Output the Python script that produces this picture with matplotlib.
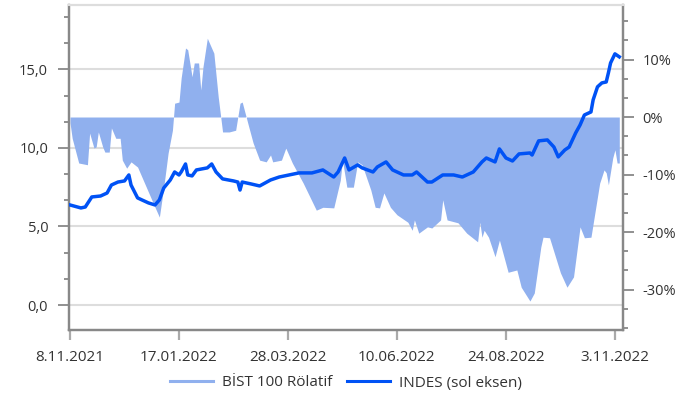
import matplotlib
matplotlib.use('Agg')
import matplotlib.pyplot as plt
from matplotlib.ticker import MultipleLocator, FuncFormatter, FixedLocator
from matplotlib.lines import Line2D

plt.rcParams['font.family'] = ['Open Sans', 'DejaVu Sans']

# x axis: trading-day index, labels every 50 trading days
tick_days = [0, 50, 100, 150, 200, 250]
tick_labels = ['8.11.2021', '17.01.2022', '28.03.2022', '10.06.2022', '24.08.2022', '3.11.2022']

# INDES price (left axis)
indes_days = [0, 5, 7, 10, 14, 17, 19, 22, 25, 27, 28, 31, 33, 36, 39, 41, 43, 46, 48, 50, 51, 53,
              54, 56, 58, 63, 65, 67, 70, 75, 77, 78, 79, 83, 87, 92, 96, 105, 111, 116, 121, 123,
              126, 128, 132, 134, 139, 141, 145, 148, 153, 157, 159, 164, 166, 171, 176, 180, 185,
              189, 191, 195, 197, 200, 203, 206, 211, 212, 215, 219, 222, 224, 227, 229, 232, 234,
              236, 239, 240, 242, 244, 246, 247, 248, 250, 252]
indes_values = [6.37, 6.18, 6.24, 6.88, 6.94, 7.13, 7.64, 7.83, 7.90, 8.28, 7.64, 6.82, 6.69, 6.50,
                6.37, 6.69, 7.45, 7.96, 8.47, 8.28, 8.47, 8.98, 8.28, 8.22, 8.60, 8.73, 8.98, 8.47,
                8.03, 7.90, 7.83, 7.32, 7.83, 7.71, 7.58, 7.96, 8.15, 8.41, 8.41, 8.60, 8.15, 8.47,
                9.36, 8.60, 8.92, 8.73, 8.47, 8.79, 9.11, 8.60, 8.28, 8.28, 8.47, 7.83, 7.83, 8.28,
                8.28, 8.15, 8.47, 9.11, 9.36, 9.11, 9.94, 9.36, 9.17, 9.62, 9.68, 9.55, 10.45, 10.51,
                10.06, 9.43, 9.87, 10.06, 10.96, 11.46, 12.10, 12.29, 13.06, 13.89, 14.14, 14.20,
                14.78, 15.41, 15.99, 15.80]

# BIST 100 relative performance, % (right axis)
rel_days = [0, 1, 4, 8, 9, 11, 12, 13, 15, 16, 18, 19, 21, 23, 24, 26, 28, 31, 35, 39, 41, 43, 45,
            47, 48, 50, 51, 53, 54, 56, 57, 59, 60, 61, 63, 66, 68, 70, 73, 76, 78, 79, 82, 84,
            87, 90, 92, 93, 97, 99, 102, 107, 113, 116, 121, 124, 125, 127, 130, 132, 134, 138,
            140, 142, 144, 147, 150, 155, 157, 158, 160, 164, 166, 170, 171, 173, 178, 182, 187,
            188, 189, 190, 192, 195, 197, 201, 205, 207, 211, 213, 216, 217, 220, 225, 228, 231,
            234, 236, 239, 241, 243, 245, 246, 247, 249, 250, 251, 252]
rel_values = [-1.0, -3.7, -8.0, -8.3, -2.8, -5.4, -5.2, -2.6, -5.2, -6.1, -6.1, -1.9, -3.7, -3.7,
              -7.5, -8.9, -7.8, -8.7, -12.2, -15.7, -17.4, -12.2, -6.3, -2.3, 2.4, 2.6, 6.8, 12.0,
              11.7, 7.0, 9.4, 9.4, 4.7, 8.7, 13.7, 11.1, 3.5, -2.6, -2.6, -2.3, 2.4, 2.6, -1.7,
              -4.5, -7.5, -7.8, -6.6, -7.8, -7.5, -5.4, -8.0, -11.5, -16.2, -15.7, -15.8, -11.0,
              -7.5, -12.2, -12.2, -7.8, -8.3, -12.7, -15.7, -15.8, -13.2, -15.7, -17.0, -18.3,
              -19.7, -17.9, -20.2, -19.1, -19.3, -17.9, -14.4, -17.9, -18.4, -20.2, -21.7, -18.3,
              -20.9, -19.7, -20.9, -24.3, -21.4, -27.0, -26.6, -29.6, -32.0, -30.6, -22.6, -20.9,
              -21.0, -27.1, -29.6, -27.8, -19.1, -21.0, -20.9, -16.2, -11.5, -9.2, -9.7, -11.8,
              -7.1, -5.7, -8.0, -8.0]

area_color = '#90b0ee'
line_color = '#0052f5'
spine_color = '#888888'
grid_color = '#dddddd'
text_color = '#333333'

fig = plt.figure(figsize=(6.94, 4.0), dpi=100)
ax = fig.add_axes([69/694, 70/400, (623-69)/694, 325/400])
ax2 = ax.twinx()

ax.set_xlim(-0.46, 253.7)
ax.set_ylim(-1.59, 19.1)
ax2.set_ylim(-37.04, 19.48)

# grid on left axis (below the area)
ax.yaxis.set_major_locator(FixedLocator([0, 5, 10, 15]))
ax.yaxis.set_minor_locator(MultipleLocator(5/3))
ax.yaxis.set_major_formatter(FuncFormatter(lambda v, p: f"{v:.1f}".replace('.', ',')))
ax.grid(axis='y', color=grid_color, lw=1.5)
ax.set_axisbelow(True)

ax2.yaxis.set_major_locator(FixedLocator([-30, -20, -10, 0, 10]))
ax2.yaxis.set_minor_locator(MultipleLocator(10/3))
ax2.yaxis.set_major_formatter(FuncFormatter(lambda v, p: f"{int(round(v))}%"))

ax.set_xticks(tick_days)
ax.set_xticklabels(tick_labels)

ax2.fill_between(rel_days, rel_values, 0, color=area_color, lw=0, zorder=1)
ax2.plot(indes_days, indes_values, color=line_color, lw=2.5, transform=ax.transData, zorder=3,
         solid_joinstyle='round')

for a in (ax, ax2):
    for side in ('left', 'right', 'bottom'):
        a.spines[side].set_color(spine_color)
        a.spines[side].set_linewidth(1.6)
    a.spines['top'].set_color(grid_color)
    a.spines['top'].set_linewidth(1.5)

ax.tick_params(axis='y', which='major', length=8, width=1.3, color=spine_color, pad=7,
               labelsize=10.5, labelcolor=text_color)
ax.tick_params(axis='y', which='minor', length=3.6, width=1.3, color=spine_color)
ax.tick_params(axis='x', which='major', length=7.5, width=1.6, color='#aaaaaa', pad=7,
               labelsize=11, labelcolor=text_color)
ax2.tick_params(axis='y', which='major', length=8, width=1.3, color=spine_color, pad=6,
                labelsize=10.5, labelcolor=text_color)
ax2.tick_params(axis='y', which='minor', length=3.6, width=1.3, color=spine_color)

handles = [Line2D([], [], color=area_color, lw=2.2), Line2D([], [], color=line_color, lw=2.2)]
fig.legend(handles, ['BİST 100 Rölatif', 'INDES (sol eksen)'], loc='center',
           bbox_to_anchor=(346/694, 1-383/400), ncol=2, frameon=False, fontsize=11,
           handlelength=2.8, columnspacing=1.0, handletextpad=0.6, labelcolor=text_color)

fig.savefig('out.png', dpi=100)
